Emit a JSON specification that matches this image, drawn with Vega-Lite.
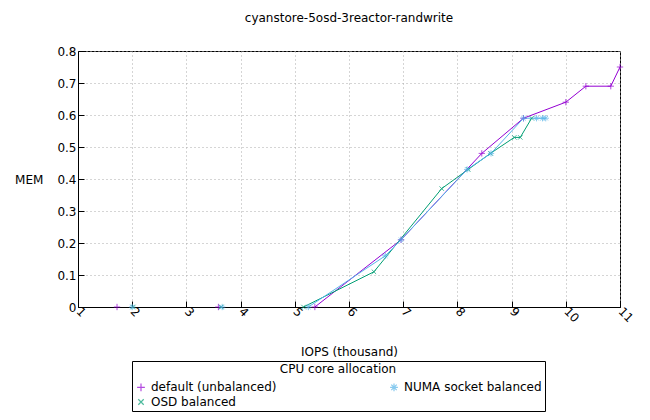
{
  "$schema": "https://vega.github.io/schema/vega-lite/v6.json",
  "autosize": "none",
  "width": 542,
  "height": 256,
  "padding": {"left": 78, "top": 51, "right": 30, "bottom": 113},
  "title": {"text": "cyanstore-5osd-3reactor-randwrite", "fontSize": 12, "fontWeight": "normal", "font": "DejaVu Sans", "offset": 20},
  "data": {
    "values": [
      {"series": "default (unbalanced)", "seg": 1, "iops": 1.72, "mem": 0},
      {"series": "default (unbalanced)", "seg": 2, "iops": 3.59, "mem": 0},
      {"series": "default (unbalanced)", "seg": 3, "iops": 5.37, "mem": 0},
      {"series": "default (unbalanced)", "seg": 3, "iops": 6.96, "mem": 0.21},
      {"series": "default (unbalanced)", "seg": 3, "iops": 8.45, "mem": 0.48},
      {"series": "default (unbalanced)", "seg": 3, "iops": 9.22, "mem": 0.59},
      {"series": "default (unbalanced)", "seg": 3, "iops": 10.0, "mem": 0.64},
      {"series": "default (unbalanced)", "seg": 3, "iops": 10.37, "mem": 0.69},
      {"series": "default (unbalanced)", "seg": 3, "iops": 10.83, "mem": 0.69},
      {"series": "default (unbalanced)", "seg": 3, "iops": 11.0, "mem": 0.75},
      {"series": "OSD balanced", "seg": 1, "iops": 2.02, "mem": 0},
      {"series": "OSD balanced", "seg": 2, "iops": 3.64, "mem": 0},
      {"series": "OSD balanced", "seg": 3, "iops": 5.16, "mem": 0},
      {"series": "OSD balanced", "seg": 3, "iops": 6.46, "mem": 0.11},
      {"series": "OSD balanced", "seg": 3, "iops": 7.71, "mem": 0.37},
      {"series": "OSD balanced", "seg": 3, "iops": 8.2, "mem": 0.43},
      {"series": "OSD balanced", "seg": 3, "iops": 8.61, "mem": 0.48},
      {"series": "OSD balanced", "seg": 3, "iops": 9.05, "mem": 0.53},
      {"series": "OSD balanced", "seg": 3, "iops": 9.16, "mem": 0.53},
      {"series": "OSD balanced", "seg": 3, "iops": 9.37, "mem": 0.59},
      {"series": "NUMA socket balanced", "seg": 1, "iops": 2.0, "mem": 0},
      {"series": "NUMA socket balanced", "seg": 2, "iops": 3.66, "mem": 0},
      {"series": "NUMA socket balanced", "seg": 3, "iops": 5.25, "mem": 0},
      {"series": "NUMA socket balanced", "seg": 3, "iops": 6.67, "mem": 0.16},
      {"series": "NUMA socket balanced", "seg": 3, "iops": 6.96, "mem": 0.21},
      {"series": "NUMA socket balanced", "seg": 3, "iops": 8.18, "mem": 0.43},
      {"series": "NUMA socket balanced", "seg": 3, "iops": 8.62, "mem": 0.48},
      {"series": "NUMA socket balanced", "seg": 3, "iops": 9.22, "mem": 0.59},
      {"series": "NUMA socket balanced", "seg": 3, "iops": 9.46, "mem": 0.59},
      {"series": "NUMA socket balanced", "seg": 3, "iops": 9.57, "mem": 0.59},
      {"series": "NUMA socket balanced", "seg": 3, "iops": 9.63, "mem": 0.59}
    ]
  },
  "encoding": {
    "x": {
      "field": "iops", "type": "quantitative", "title": "IOPS (thousand)",
      "scale": {"domain": [1, 11], "nice": false},
      "axis": {"values": [1,2,3,4,5,6,7,8,9,10,11], "labelAngle": 45, "labelAlign": "left", "labelBaseline": "middle", "titlePadding": 22}
    },
    "y": {
      "field": "mem", "type": "quantitative", "title": "MEM",
      "scale": {"domain": [0, 0.8], "nice": false},
      "axis": {"values": [0,0.1,0.2,0.3,0.4,0.5,0.6,0.7,0.8], "format": ".1~f", "titlePadding": 14, "titleAngle": 0, "titleAlign": "right", "titleBaseline": "middle"}
    },
    "color": {
      "field": "series", "type": "nominal", "title": "CPU core allocation",
      "scale": {"domain": ["default (unbalanced)", "NUMA socket balanced", "OSD balanced"], "range": ["#9400d3", "#56b4e9", "#009e73"]},
      "legend": {"orient": "none", "legendX": 54, "legendY": 310, "columns": 2, "direction": "horizontal", "strokeColor": "black", "padding": 3, "titleAnchor": "middle", "titleFontWeight": "normal", "titleFontSize": 12, "labelFontSize": 12, "columnPadding": 110, "symbolSize": 60, "symbolStrokeWidth": 1.2, "labelLimit": 300}
    }
  },
  "layer": [
    {
      "mark": {"type": "line", "strokeWidth": 1},
      "encoding": {"detail": {"field": "seg"}}
    },
    {
      "mark": {"type": "point", "filled": false, "strokeWidth": 1, "size": 40},
      "encoding": {
        "shape": {
          "field": "series", "type": "nominal",
          "scale": {"domain": ["default (unbalanced)", "NUMA socket balanced", "OSD balanced"],
            "range": ["M-1,0H1M0,-1V1", "M-1,0H1M0,-1V1M-0.7,-0.7L0.7,0.7M-0.7,0.7L0.7,-0.7", "M-0.7,-0.7L0.7,0.7M-0.7,0.7L0.7,-0.7"]}
        }
      }
    }
  ],
  "config": {
    "font": "DejaVu Sans",
    "view": {"stroke": "black", "strokeWidth": 1},
    "axis": {"grid": true, "gridDash": [1, 3], "gridColor": "#aaaaaa", "domainColor": "black", "tickColor": "black", "labelColor": "black", "titleColor": "black", "labelFontSize": 12, "titleFontSize": 12, "titleFontWeight": "normal", "tickSize": -6, "labelPadding": 8},
    "legend": {"labelColor": "black", "titleColor": "black"}
  }
}
